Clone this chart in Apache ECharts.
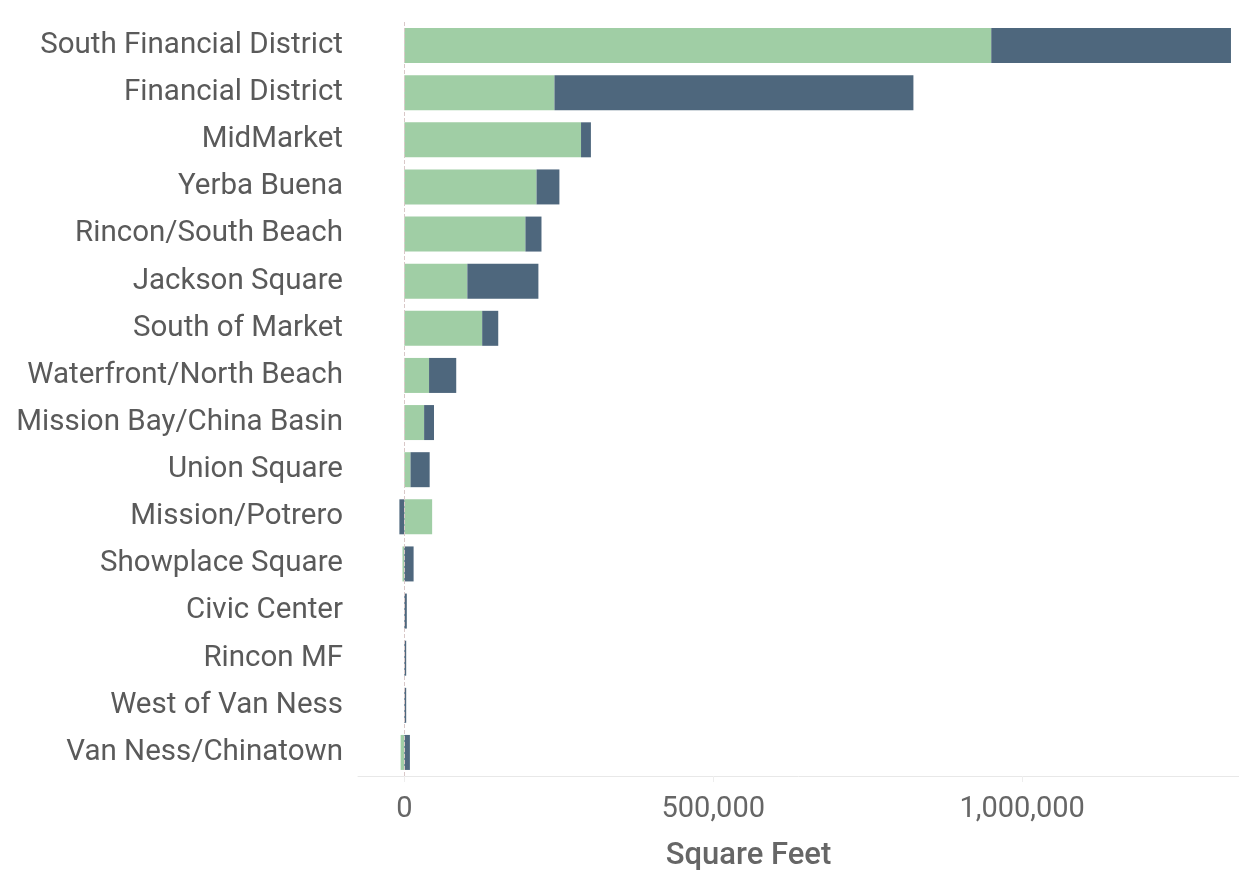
<!DOCTYPE html>
<html lang="en" style="height:100%">
<head>
    <meta charset="UTF-8">
    <title>Square Feet by District</title>
</head>
<body style="height: 100%; margin: 0; background: #fff">
<div id="container" style="width: 100%; height: 100%"></div>
<script type="text/javascript" src="https://cdn.jsdelivr.net/npm/echarts@6/dist/echarts.min.js"></script>
<script type="text/javascript">

    // districts, top to bottom
    var districts = ['South Financial District', 'Financial District', 'MidMarket', 'Yerba Buena',
        'Rincon/South Beach', 'Jackson Square', 'South of Market', 'Waterfront/North Beach',
        'Mission Bay/China Basin', 'Union Square', 'Mission/Potrero', 'Showplace Square',
        'Civic Center', 'Rincon MF', 'West of Van Ness', 'Van Ness/Chinatown'];

    // green part of each bar
    var greenValues = [950000, 243000, 286000, 214000, 196000, 102000, 126000, 40000,
        32000, 10000, 45000, -3000, 0, 0, 0, -6000];

    // dark part of each bar
    var darkValues = [388000, 581000, 16000, 37000, 26000, 115000, 26000, 44000,
        16000, 31000, -8000, 15000, 4000, 3000, 3000, 9000];

    var tickValues = [0, 500000, 1000000];

    var dom = document.getElementById("container");
    var myChart = echarts.init(dom);

    var fontFamily = 'Roboto, "Noto Sans", sans-serif';

    var option = {
        backgroundColor: '#ffffff',
        animation: false,
        grid: {
            left: 358,
            right: 0,
            top: 22,
            bottom: 95
        },
        xAxis: {
            type: 'value',
            min: -75000,
            max: 1351000,
            name: 'Square Feet',
            nameLocation: 'middle',
            nameGap: 65,
            nameTextStyle: {
                fontFamily: fontFamily,
                fontSize: 31,
                fontWeight: 500,
                color: '#666666',
                padding: [0, 100, 0, 0]
            },
            axisLine: {
                show: true,
                lineStyle: {color: '#e8e8e8', width: 1}
            },
            axisTick: {
                show: true,
                customValues: tickValues,
                length: 6,
                lineStyle: {color: '#eeeeee'}
            },
            axisLabel: {
                customValues: tickValues,
                margin: 19,
                fontFamily: fontFamily,
                fontSize: 29,
                color: '#666666',
                formatter: function (v) {
                    return v.toLocaleString('en-US');
                }
            },
            splitLine: {show: false}
        },
        yAxis: {
            type: 'category',
            inverse: true,
            data: districts,
            axisLine: {show: false},
            axisTick: {show: false},
            axisLabel: {
                margin: 15,
                fontFamily: fontFamily,
                fontSize: 29.5,
                color: '#5a5a5a'
            }
        },
        series: [
            {
                name: 'Green',
                type: 'bar',
                stack: 'total',
                barWidth: 35,
                data: greenValues,
                itemStyle: {color: '#a0cea5'},
                markLine: {
                    silent: true,
                    symbol: 'none',
                    label: {show: false},
                    lineStyle: {color: '#d9c8c8', type: 'dashed', width: 1},
                    data: [{xAxis: 0}]
                }
            },
            {
                name: 'Dark',
                type: 'bar',
                stack: 'total',
                barWidth: 35,
                data: darkValues,
                itemStyle: {color: '#4e677d'}
            }
        ]
    };

    myChart.setOption(option, true);

</script>
</body>
</html>
